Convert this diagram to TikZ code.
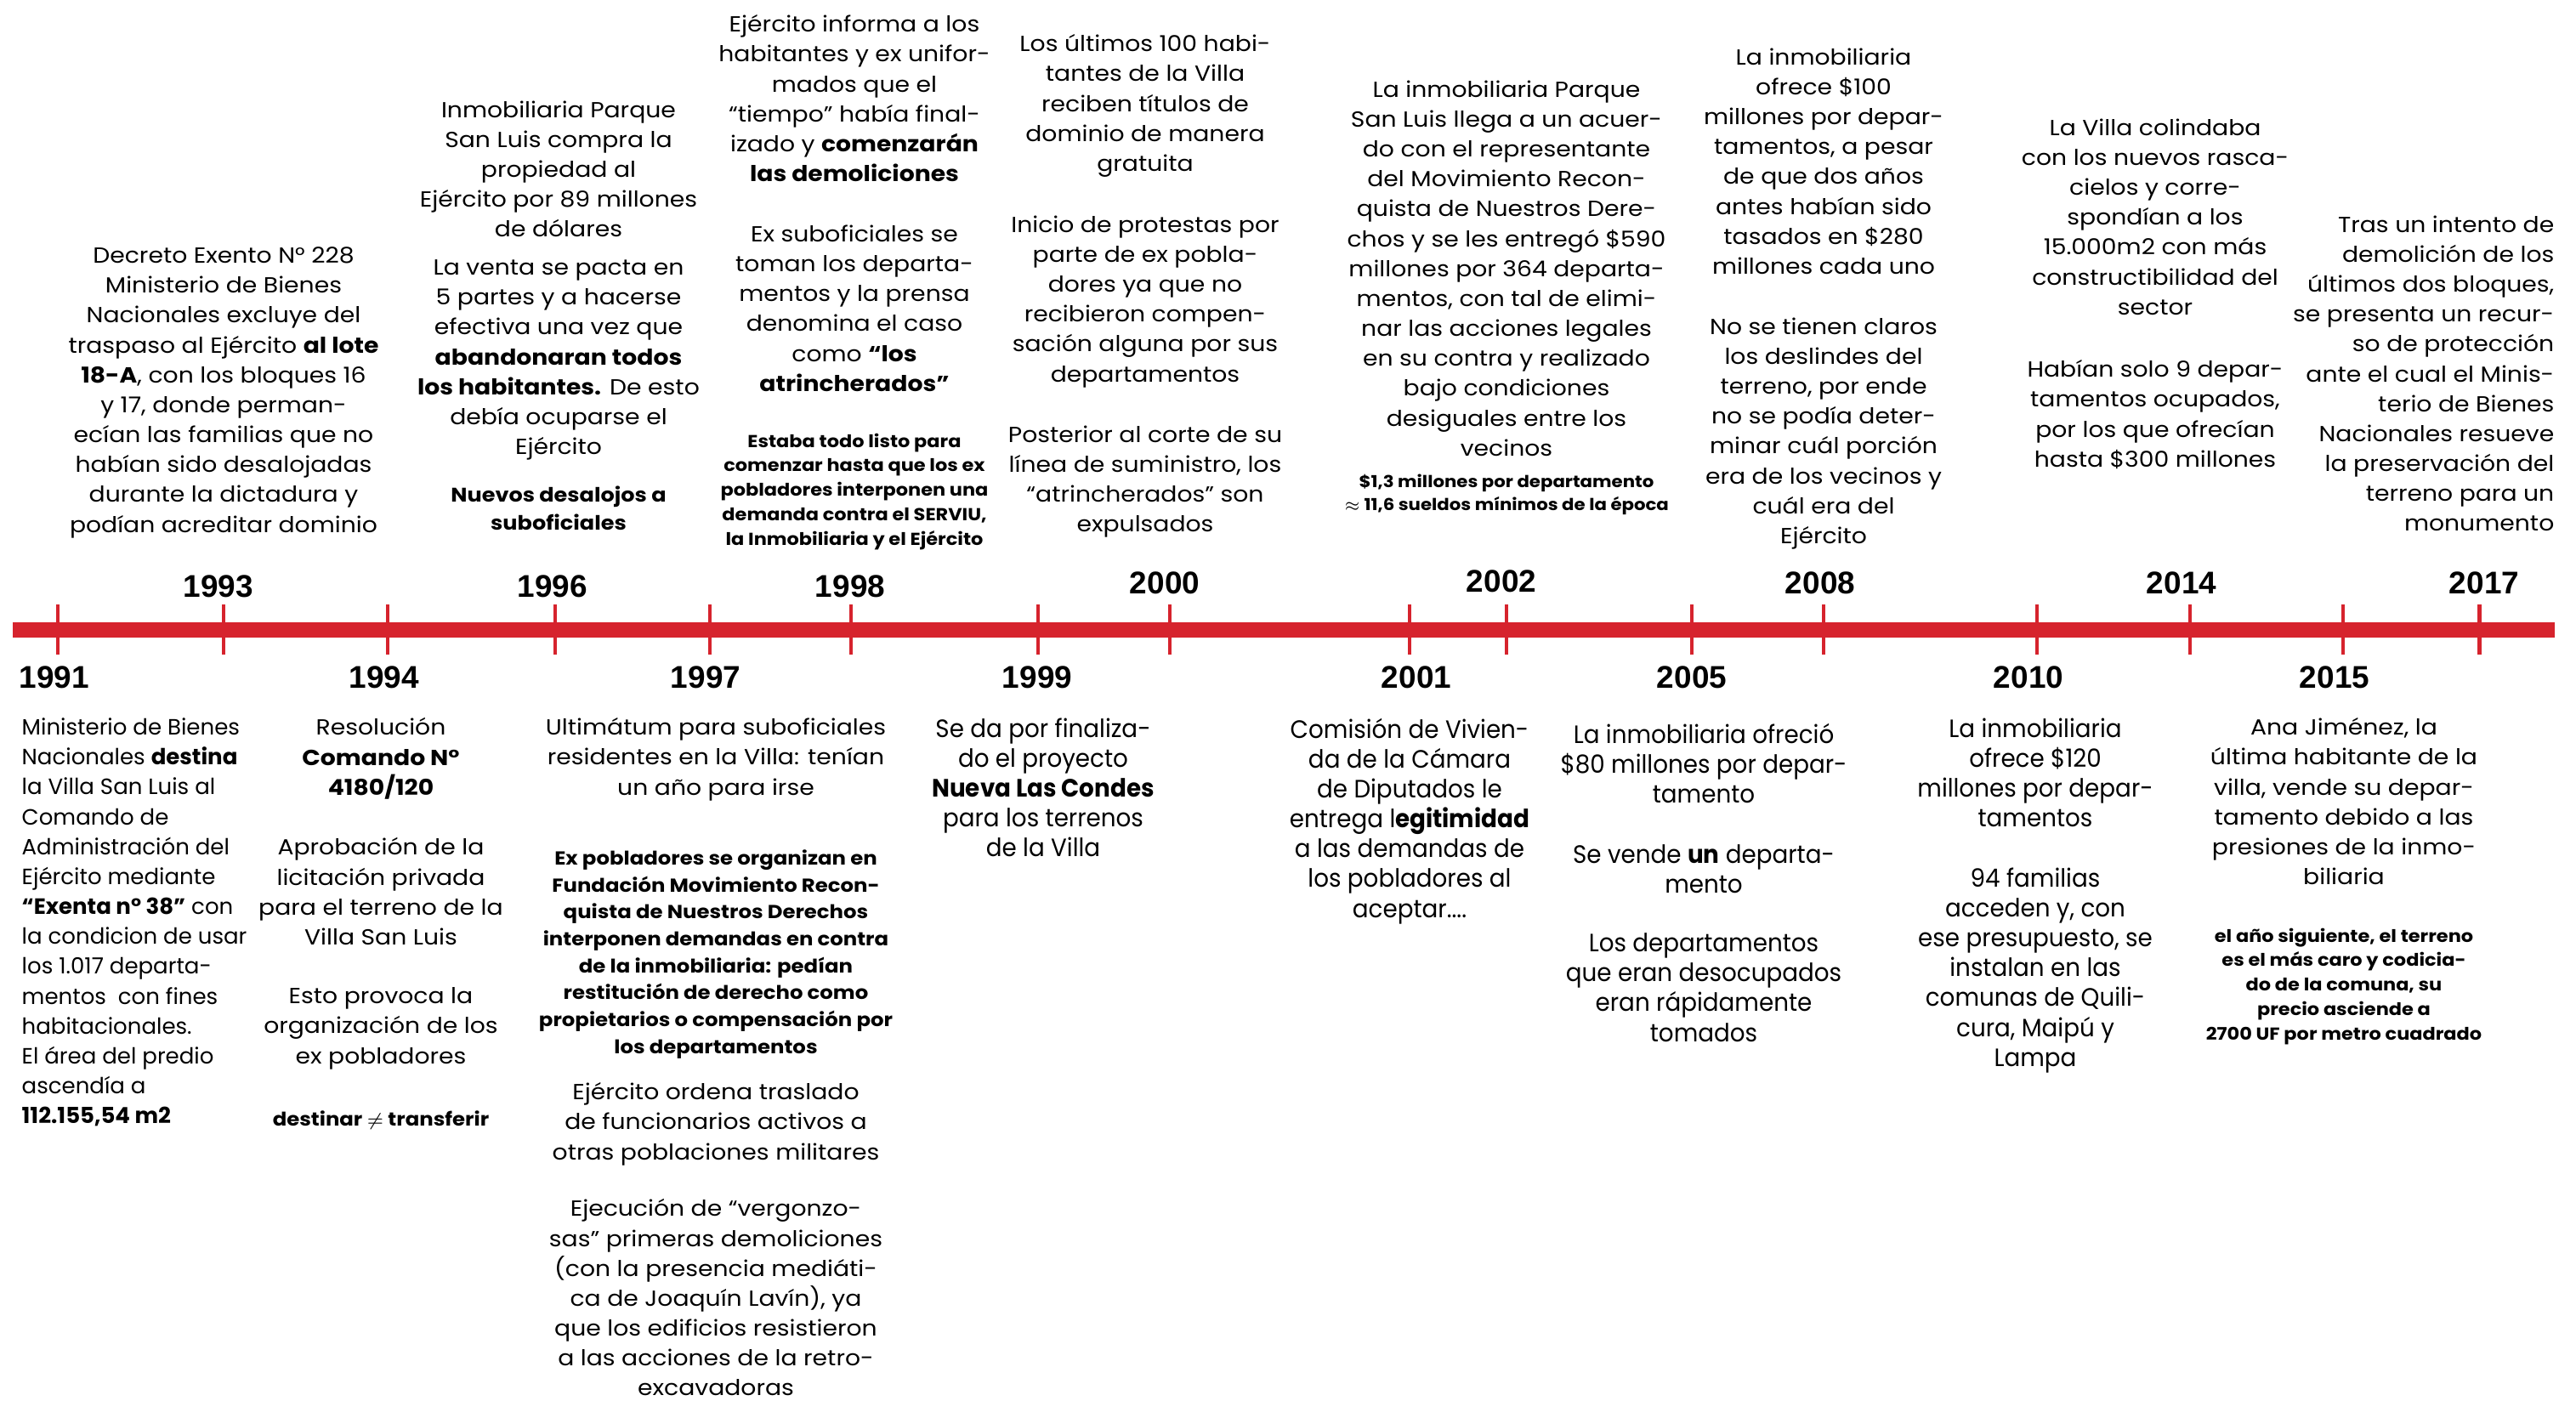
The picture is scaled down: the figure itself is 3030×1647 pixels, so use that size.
\documentclass[tikz,border=0pt]{standalone}
\usepackage{fontspec}
\setmainfont{Poppins}[FakeStretch=1.1]
\newfontfamily\plainfont{Poppins}
\newfontfamily\narrowfont[FakeStretch=0.94]{Poppins}
\newfontfamily\yearfont{Liberation Sans}
\definecolor{timelinered}{RGB}{214,35,45}
\tikzset{
  evtext/.style={align=center, inner sep=0pt, font=\fontsize{7.3}{10}\selectfont},
  evnarrow/.style={align=center, inner sep=0pt, font=\narrowfont\fontsize{8.4}{10}\selectfont},
  evbold/.style={align=center, inner sep=0pt, font=\bfseries\fontsize{6.6}{9.4}\selectfont},
  evsmall/.style={align=center, inner sep=0pt, font=\bfseries\fontsize{5.8}{8.2}\selectfont},
  yearlabel/.style={inner sep=0pt, font=\yearfont\bfseries\fontsize{10.5}{12}\selectfont},
  yeartick/.style={draw=timelinered, line width=1.4pt}
}
\begin{document}
\begin{tikzpicture}[x=0.01cm, y=-0.01cm]
\useasboundingbox (0,0) rectangle (3030,1647);
% linea de tiempo
\fill[timelinered] (15,732) rectangle (3005,750);
\draw[yeartick] (68,711) -- (68,770);
\draw[yeartick] (263,711) -- (263,770);
\draw[yeartick] (456,711) -- (456,770);
\draw[yeartick] (653,711) -- (653,770);
\draw[yeartick] (835,711) -- (835,770);
\draw[yeartick] (1001,711) -- (1001,770);
\draw[yeartick] (1221,711) -- (1221,770);
\draw[yeartick] (1376,711) -- (1376,770);
\draw[yeartick] (1658,711) -- (1658,770);
\draw[yeartick] (1772,711) -- (1772,770);
\draw[yeartick] (1990,711) -- (1990,770);
\draw[yeartick] (2145,711) -- (2145,770);
\draw[yeartick] (2396,711) -- (2396,770);
\draw[yeartick] (2576,711) -- (2576,770);
\draw[yeartick] (2756,711) -- (2756,770);
\draw[yeartick] (2916,711) -- (2916,770);
% anos
\node[yearlabel] (y1991) at (64,797) {1991};
\node[yearlabel] (y1993) at (257,690) {1993};
\node[yearlabel] (y1994) at (452,797) {1994};
\node[yearlabel] (y1996) at (650,690) {1996};
\node[yearlabel] (y1997) at (830,797) {1997};
\node[yearlabel] (y1998) at (1000,690) {1998};
\node[yearlabel] (y1999) at (1220,797) {1999};
\node[yearlabel] (y2000) at (1370,686) {2000};
\node[yearlabel] (y2001) at (1666,797) {2001};
\node[yearlabel] (y2002) at (1766,684) {2002};
\node[yearlabel] (y2005) at (1990,797) {2005};
\node[yearlabel] (y2008) at (2141,686) {2008};
\node[yearlabel] (y2010) at (2386,797) {2010};
\node[yearlabel] (y2014) at (2566,686) {2014};
\node[yearlabel] (y2015) at (2746,797) {2015};
\node[yearlabel] (y2017) at (2922,686) {2017};
% arriba
\node[evtext, anchor=north] (t1993) at (263,290) {Decreto Exento N° 228\\Ministerio de Bienes\\Nacionales excluye del\\traspaso al Ejército \textbf{al lote}\\\textbf{18-A}, con los bloques 16\\y 17, donde perman-\\ecían las familias que no\\habían sido desalojadas\\durante la dictadura y\\podían acreditar dominio};
\node[evtext, anchor=north] (t1996a) at (657,118) {Inmobiliaria Parque\\San Luis compra la\\propiedad al\\Ejército por 89 millones\\de dólares};
\node[evtext, anchor=north] (t1996b) at (657,305) {La venta se pacta en\\5 partes y a hacerse\\efectiva una vez que\\\textbf{abandonaran todos}\\\textbf{los habitantes.} De esto\\debía ocuparse el\\Ejército};
\node[evbold, anchor=north] (t1996c) at (657,571) {Nuevos desalojos a\\suboficiales};
\node[evtext, anchor=north] (t1998a) at (1005,17) {Ejército informa a los\\habitantes y ex unifor-\\mados que el\\“tiempo” había final-\\izado y \textbf{comenzarán}\\\textbf{las demoliciones}};
\node[evtext, anchor=north] (t1998b) at (1005,264) {Ex suboficiales se\\toman los departa-\\mentos y la prensa\\denomina el caso\\como \textbf{“los}\\\textbf{atrincherados”}};
\node[evsmall, anchor=north] (t1998c) at (1005,509) {Estaba todo listo para\\comenzar hasta que los ex\\pobladores interponen una\\demanda contra el SERVIU,\\la Inmobiliaria y el Ejército};
\node[evtext, anchor=north] (t2000a) at (1347,40) {Los últimos 100 habi-\\tantes de la Villa\\reciben títulos de\\dominio de manera\\gratuita};
\node[evtext, anchor=north] (t2000b) at (1347,253) {Inicio de protestas por\\parte de ex pobla-\\dores ya que no\\recibieron compen-\\sación alguna por sus\\departamentos};
\node[evtext, anchor=north] (t2000c) at (1347,500) {Posterior al corte de su\\línea de suministro, los\\“atrincherados” son\\expulsados};
\node[evtext, anchor=north] (t2002a) at (1772,94) {La inmobiliaria Parque\\San Luis llega a un acuer-\\do con el representante\\del Movimiento Recon-\\quista de Nuestros Dere-\\chos y se les entregó \$590\\millones por 364 departa-\\mentos, con tal de elimi-\\nar las acciones legales\\en su contra y realizado\\bajo condiciones\\desiguales entre los\\vecinos};
\node[evsmall, anchor=north, font=\bfseries\fontsize{5.5}{7.7}\selectfont] (t2002b) at (1772,557) {\$1,3 millones por departamento\\$\approx$ 11,6 sueldos mínimos de la época};
\node[evtext, anchor=north] (t2008a) at (2145,56) {La inmobiliaria\\ofrece \$100\\millones por depar-\\tamentos, a pesar\\de que dos años\\antes habían sido\\tasados en \$280\\millones cada uno};
\node[evtext, anchor=north] (t2008b) at (2145,373) {No se tienen claros\\los deslindes del\\terreno, por ende\\no se podía deter-\\minar cuál porción\\era de los vecinos y\\cuál era del\\Ejército};
\node[evtext, anchor=north] (t2014a) at (2535,139) {La Villa colindaba\\con los nuevos rasca-\\cielos y corre-\\spondían a los\\15.000m2 con más\\constructibilidad del\\sector};
\node[evtext, anchor=north] (t2014b) at (2535,423) {Habían solo 9 depar-\\tamentos ocupados,\\por los que ofrecían\\hasta \$300 millones};
\node[evtext, anchor=north east, align=right] (t2017) at (3005,253) {Tras un intento de\\demolición de los\\últimos dos bloques,\\se presenta un recur-\\so de protección\\ante el cual el Minis-\\terio de Bienes\\Nacionales resueve\\la preservación del\\terreno para un\\monumento};
% abajo
\node[evtext, anchor=north west, align=left, font=\plainfont\fontsize{7.4}{10}\selectfont] (t1991) at (25,844) {Ministerio de Bienes\\Nacionales \textbf{destina}\\la Villa San Luis al\\Comando de\\Administración del\\Ejército mediante\\\textbf{“Exenta n° 38”} con\\la condicion de usar\\los 1.017 departa-\\mentos\ \ con fines\\habitacionales.\\El área del predio\\ascendía a\\\textbf{112.155,54 m2}};
\node[evtext, anchor=north] (t1994a) at (448,844) {Resolución\\\textbf{Comando N°}\\\textbf{4180/120}};
\node[evtext, anchor=north] (t1994b) at (448,985) {Aprobación de la\\licitación privada\\para el terreno de la\\Villa San Luis};
\node[evtext, anchor=north] (t1994c) at (448,1161) {Esto provoca la\\organización de los\\ex pobladores};
\node[evbold, anchor=north, font=\bfseries\fontsize{6.3}{9.4}\selectfont] (t1994d) at (448,1306) {destinar $\neq$ transferir};
\node[evtext, anchor=north] (t1997a) at (842,844) {Ultimátum para suboficiales\\residentes en la Villa: tenían\\un año para irse};
\node[evsmall, anchor=north, font=\bfseries\fontsize{6.3}{9}\selectfont] (t1997b) at (842,999) {Ex pobladores se organizan en\\Fundación Movimiento Recon-\\quista de Nuestros Derechos\\interponen demandas en contra\\de la inmobiliaria: pedían\\restitución de derecho como\\propietarios o compensación por\\los departamentos};
\node[evtext, anchor=north] (t1997c) at (842,1273) {Ejército ordena traslado\\de funcionarios activos a\\otras poblaciones militares};
\node[evtext, anchor=north] (t1997d) at (842,1410) {Ejecución de “vergonzo-\\sas” primeras demoliciones\\(con la presencia mediáti-\\ca de Joaquín Lavín), ya\\que los edificios resistieron\\a las acciones de la retro-\\excavadoras};
\node[evnarrow, anchor=north] (t1999) at (1227,844) {Se da por finaliza-\\do el proyecto\\\textbf{Nueva Las Condes}\\para los terrenos\\de la Villa};
\node[evnarrow, anchor=north] (t2001) at (1658,844) {Comisión de Vivien-\\da de la Cámara\\de Diputados le\\entrega l\textbf{egitimidad}\\a las demandas de\\los pobladores al\\aceptar....};
\node[evnarrow, anchor=north] (t2005a) at (2004,850) {La inmobiliaria ofreció\\\$80 millones por depar-\\tamento};
\node[evnarrow, anchor=north] (t2005b) at (2004,993) {Se vende \textbf{un} departa-\\mento};
\node[evnarrow, anchor=north] (t2005c) at (2004,1097) {Los departamentos\\que eran desocupados\\eran rápidamente\\tomados};
\node[evnarrow, anchor=north] (t2010a) at (2394,844) {La inmobiliaria\\ofrece \$120\\millones por depar-\\tamentos};
\node[evnarrow, anchor=north] (t2010b) at (2394,1020) {94 familias\\acceden y, con\\ese presupuesto, se\\instalan en las\\comunas de Quili-\\cura, Maipú y\\Lampa};
\node[evtext, anchor=north] (t2015a) at (2757,844) {Ana Jiménez, la\\última habitante de la\\villa, vende su depar-\\tamento debido a las\\presiones de la inmo-\\biliaria};
\node[evsmall, anchor=north] (t2015b) at (2757,1091) {el año siguiente, el terreno\\es el más caro y codicia-\\do de la comuna, su\\precio asciende a\\2700 UF por metro cuadrado};
\end{tikzpicture}
\end{document}
